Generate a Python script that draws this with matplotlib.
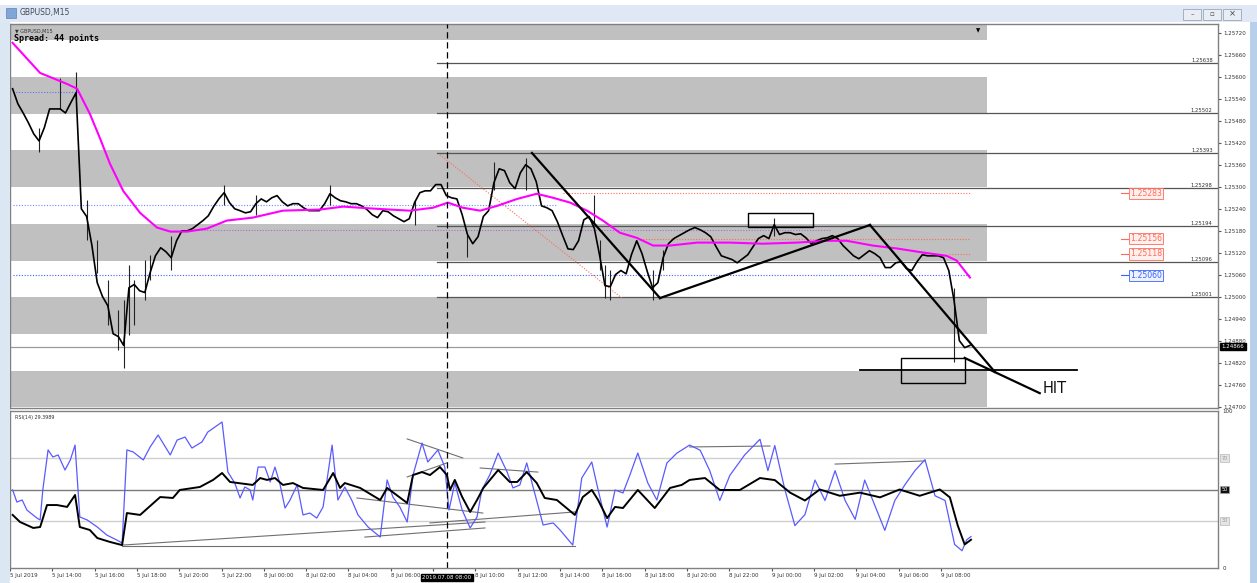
import matplotlib
matplotlib.use("Agg")
import matplotlib.pyplot as plt
from matplotlib.patches import Rectangle, Polygon

# ---------------- data ----------------
closes = [1.25568, 1.25527, 1.25502, 1.25475, 1.25445, 1.25426, 1.25462, 1.25513, 1.25513, 1.25513,
          1.25502, 1.25530, 1.25557, 1.25241, 1.25220, 1.25141, 1.25040, 1.25002, 1.24977, 1.24901,
          1.24893, 1.24869, 1.25026, 1.25035, 1.25018, 1.25013, 1.25067, 1.25113, 1.25135, 1.25124,
          1.25108, 1.25154, 1.25181, 1.25181, 1.25187, 1.25198, 1.25209, 1.25222, 1.25247, 1.25268,
          1.25285, 1.25258, 1.25241, 1.25236, 1.25230, 1.25233, 1.25255, 1.25268, 1.25260, 1.25271,
          1.25277, 1.25260, 1.25249, 1.25255, 1.25255, 1.25244, 1.25236, 1.25236, 1.25236, 1.25255,
          1.25282, 1.25271, 1.25263, 1.25260, 1.25255, 1.25255, 1.25249, 1.25239, 1.25225, 1.25217,
          1.25236, 1.25233, 1.25222, 1.25214, 1.25206, 1.25214, 1.25258, 1.25285, 1.25290, 1.25290,
          1.25307, 1.25307, 1.25277, 1.25271, 1.25268, 1.25225, 1.25171, 1.25146, 1.25165, 1.25220,
          1.25236, 1.25312, 1.25350, 1.25345, 1.25312, 1.25296, 1.25339, 1.25361, 1.25350, 1.25315,
          1.25249, 1.25244, 1.25236, 1.25206, 1.25168, 1.25132, 1.25130, 1.25154, 1.25211, 1.25220,
          1.25187, 1.25113, 1.25032, 1.25029, 1.25062, 1.25073, 1.25064, 1.25116, 1.25154, 1.25119,
          1.25070, 1.25026, 1.25040, 1.25108, 1.25146, 1.25160, 1.25168, 1.25176, 1.25184, 1.25190,
          1.25184, 1.25176, 1.25165, 1.25138, 1.25113, 1.25108, 1.25103, 1.25094, 1.25105, 1.25116,
          1.25138, 1.25160, 1.25168, 1.25160, 1.25198, 1.25171, 1.25176, 1.25176, 1.25171, 1.25173,
          1.25162, 1.25146, 1.25154, 1.25160, 1.25162, 1.25168, 1.25160, 1.25141, 1.25127, 1.25113,
          1.25105, 1.25116, 1.25127, 1.25119, 1.25108, 1.25081, 1.25081, 1.25094, 1.25097, 1.25078,
          1.25073, 1.25097, 1.25116, 1.25113, 1.25113, 1.25113, 1.25108, 1.25073, 1.24991, 1.24882,
          1.24863, 1.24869]
bars = list(range(len(closes)))

wick_bars = [5, 9, 12, 14, 16, 18, 20, 21, 22, 23, 25, 26, 30, 40, 46, 60, 76, 86, 91, 97,
             110, 111, 112, 113, 121, 123, 144, 178]
wick_low = [1.25396, 1.25513, 1.25540, 1.25156, 1.25066, 1.24925, 1.24857, 1.24808, 1.24897, 1.24925,
            1.24993, 1.25047, 1.25074, 1.25251, 1.25224, 1.25251, 1.25197, 1.25110, 1.25292, 1.25292,
            1.25197, 1.25074, 1.24998, 1.24993, 1.24993, 1.25074, 1.25167, 1.24824]
wick_high = [1.25461, 1.25597, 1.25614, 1.25265, 1.25156, 1.25047, 1.24966, 1.24993, 1.25088, 1.25047,
             1.25102, 1.25115, 1.25167, 1.25306, 1.25279, 1.25306, 1.25265, 1.25170, 1.25369, 1.25379,
             1.25279, 1.25156, 1.25088, 1.25074, 1.25074, 1.25129, 1.25216, 1.25025]

ma_bars = [0, 5.2, 10.3, 12.2, 14.6, 16.5, 18.4, 20.9, 24.1, 27.3, 29.8, 33, 36.7, 40.5, 45.4, 51.1,
           58.1, 62.5, 68.9, 75.1, 79.5, 82.3, 85.1, 88.4, 91.6, 95.4, 99.1, 102.2, 105.4, 108.6,
           111.6, 114.8, 118, 121.1, 124.3, 129.4, 135.6, 141.8, 148.3, 153.9, 157.7, 162.6, 167.2,
           172.1, 176.6, 178.5, 181]
ma_vals = [1.25693, 1.25611, 1.25581, 1.25568, 1.25500, 1.25434, 1.25364, 1.25290, 1.25230, 1.25190,
           1.25179, 1.25179, 1.25187, 1.25209, 1.25217, 1.25236, 1.25239, 1.25247, 1.25241, 1.25236,
           1.25244, 1.25258, 1.25244, 1.25236, 1.25249, 1.25268, 1.25282, 1.25271, 1.25258, 1.25236,
           1.25209, 1.25176, 1.25162, 1.25141, 1.25141, 1.25149, 1.25149, 1.25146, 1.25149, 1.25154,
           1.25154, 1.25141, 1.25133, 1.25122, 1.25113, 1.25100, 1.25054]

rsi_bars = [0, 0.8, 1.8, 2.7, 4.6, 5.2, 5.7, 6.7, 7.6, 8.6, 9.9, 10.9, 11.8, 12.7, 14.1, 16, 17.8, 19.7,
            20.7, 21.6, 22.8, 24.7, 26, 27.5, 29.8, 31.1, 32.6, 33.9, 35.8, 36.9, 39.6, 40.7, 42, 43,
            43.9, 44.9, 45.4, 46.4, 47.7, 48.7, 49.6, 50.5, 51.5, 52.4, 53.8, 54.9, 56.2, 57.5, 58.7,
            60.4, 61.5, 62.8, 64.1, 65.3, 67.2, 69.5, 70.8, 71.9, 73.2, 74.6, 75.7, 77.4, 78.5, 80.4,
            81.7, 82.5, 83.6, 85, 86.5, 87.8, 88.7, 90.2, 91.8, 93.5, 94.6, 95.9, 97.2, 98.4, 100.3,
            102.2, 103.5, 105.9, 107.6, 109.5, 110.7, 112.4, 113.9, 115.4, 116.7, 118.2, 120.1, 121.8,
            123.7, 125.6, 128, 130, 131.8, 133.7, 135.6, 138.4, 141.3, 142.8, 144.1, 146, 147.9, 149.8,
            151.7, 153.6, 155.5, 157.4, 159.3, 161.1, 163, 164.9, 166.8, 168.7, 170.6, 172.5, 174.4,
            176.3, 178.1, 179.5, 180.4, 181.2]
rsi_vals = [49.7, 42.0, 43.3, 36.9, 31.8, 30.6, 49.7, 75.2, 70.7, 72.0, 62.4, 68.8, 78.3, 32.5, 30.6,
            26.1, 21.0, 17.8, 15.9, 75.2, 73.9, 68.8, 77.1, 84.7, 72.0, 81.5, 83.4, 76.4, 80.3, 86.6,
            93.0, 61.1, 54.1, 44.6, 51.6, 49.7, 43.3, 64.3, 64.3, 54.8, 64.3, 54.1, 38.2, 43.0, 52.9,
            33.8, 35.0, 31.8, 38.9, 78.3, 43.3, 51.6, 43.3, 33.8, 26.1, 19.7, 56.1, 45.2, 38.9, 29.3,
            59.2, 79.6, 67.5, 75.2, 64.3, 36.9, 54.1, 36.9, 25.5, 32.5, 49.7, 59.2, 73.2, 61.1, 51.0,
            52.9, 66.9, 51.6, 27.4, 28.7, 24.2, 14.6, 57.3, 67.5, 49.7, 26.1, 49.7, 47.8, 59.2, 73.2,
            54.1, 43.3, 66.9, 73.2, 78.3, 75, 62, 43, 59, 72, 82, 62, 78, 50, 27, 34, 56, 43, 62, 43,
            31, 56, 40, 24, 43, 53, 62, 69, 46, 43, 15, 11, 18, 20]

sig_bars = [0, 1.4, 3.9, 5.2, 6.5, 8.4, 10.3, 11.8, 12.7, 14.6, 16, 18.4, 20.7, 21.6, 24.1, 27.9, 30.3,
            31.6, 35.4, 37.9, 39.6, 41.1, 45.4, 46.8, 48.1, 49.6, 51.1, 53, 54.9, 58.7, 60.6, 61.9,
            62.8, 65.7, 69.5, 70.8, 74.6, 75.7, 77.4, 78.9, 80.8, 82.1, 82.7, 83.6, 85, 86.5, 87.8,
            89, 91.8, 94, 95.4, 97.2, 99.1, 100.6, 102.9, 106.3, 107.8, 109.5, 110.7, 112.4, 113.9,
            115.4, 118.2, 121.4, 124.3, 126.5, 128, 130.9, 133.7, 137.5, 141.3, 144.1, 147, 149.8,
            152.6, 156.4, 160.2, 164, 167.7, 171.5, 175.3, 177.2, 178.7, 180, 181.2]
sig_vals = [33.8, 29.3, 25.5, 26.1, 40.1, 40.1, 38.9, 46.5, 26.1, 24.2, 19.1, 16.6, 14.6, 35.0, 33.8,
            45.2, 44.6, 49.7, 51.6, 56.1, 60.5, 54.8, 52.9, 57.3, 56.1, 57.3, 52.9, 54.1, 51.0, 49.7,
            60.5, 51.0, 54.1, 51.0, 43.3, 51.0, 41.4, 59.2, 61.1, 59.2, 64.3, 59.2, 49.7, 56.1, 45.2,
            35.7, 43.3, 51.0, 62.4, 54.8, 54.8, 61.1, 54.1, 44.6, 43.3, 33.8, 45.2, 49.7, 43.3, 31.8,
            38.9, 38.2, 49.7, 38.2, 51.0, 52.9, 56.1, 57.3, 49.7, 49.7, 57.3, 56, 48, 43, 50, 46, 48,
            45, 50, 46, 50, 45, 27, 15, 18]

# price zones (lower edge, 10 pips high)
zone_lows = [1.2470, 1.2490, 1.2510, 1.2530, 1.2550, 1.2570]
zone_height = 0.0010
zone_end = 184.2

# horizontal level lines (from bar 80 to right edge) and their labels
level_prices = [1.25638, 1.25502, 1.25393, 1.25298, 1.25194, 1.25096, 1.25001]
level_labels = ["1.25638", "1.25502", "1.25393", "1.25298", "1.25194", "1.25096", "1.25001"]
level_start = 80.2

current_price = 1.24866

# order lines (price, start bar, colour, label)
order_prices = [1.25283, 1.25160, 1.25118, 1.25060]
order_starts = [104, 118.6, 177, 0]
order_colors = ["#ff6a5a", "#ff6a5a", "#ff6a5a", "#3a62ff"]
order_labels = ["1.25283", "1.25156", "1.25118", "1.25060"]
order_end = 181

# dotted history lines (price, start, end, colour)
dot_prices = [1.25559, 1.25252, 1.25183]
dot_starts = [0, 0, 33.6]
dot_ends = [12.4, 103, 154.5]
dot_colors = ["#6a6aff", "#6a8cff", "#a070d0"]

# trend lines ((bar, price), (bar, price))
trend_lines = [((98.2, 1.25393), (122.4, 1.24998)),
               ((122.4, 1.24998), (162.1, 1.25197)),
               ((162.1, 1.25197), (185.7, 1.24797)),
               ((180.0, 1.24835), (194.2, 1.24739))]
hline_hit = (160.2, 201.2, 1.24802)
boxes = [(167.9, 180.0, 1.24767, 1.24835), (139.0, 151.3, 1.25192, 1.25230)]
red_channel = ((80.8, 1.25388), (115.2, 1.24998))
cursor_bar = 82.1

# RSI pane trend lines
rsi_lines = [((20.7, 14.6), (89.3, 29.3)), ((20.7, 14.0), (106.3, 14.0)),
             ((74.6, 82.2), (85.1, 70.1)), ((74.6, 58.0), (82.1, 66.9)),
             ((65.1, 44.6), (88.9, 35.0)), ((66.6, 19.7), (89.3, 25.5)),
             ((88.4, 63.7), (99.3, 61.1)), ((78.9, 28.7), (106.3, 35.7)),
             ((128.0, 77.1), (143.2, 77.7)), ((155.5, 66.2), (172.5, 68.2))]

price_ticks = [1.25720, 1.25660, 1.25600, 1.25540, 1.25480, 1.25420, 1.25360, 1.25300, 1.25240,
               1.25180, 1.25120, 1.25060, 1.25000, 1.24940, 1.24880, 1.24820, 1.24760, 1.24700]
time_labels = ["5 Jul 2019", "5 Jul 14:00", "5 Jul 16:00", "5 Jul 18:00", "5 Jul 20:00", "5 Jul 22:00",
               "8 Jul 00:00", "8 Jul 02:00", "8 Jul 04:00", "8 Jul 06:00", "", "8 Jul 10:00",
               "8 Jul 12:00", "8 Jul 14:00", "8 Jul 16:00", "8 Jul 18:00", "8 Jul 20:00", "8 Jul 22:00",
               "9 Jul 00:00", "9 Jul 02:00", "9 Jul 04:00", "9 Jul 06:00", "9 Jul 08:00"]
bars_per_label = 8
cursor_label = "2019.07.08 08:00"

# ---------------- figure ----------------
W, H = 1257, 583
fig = plt.figure(figsize=(W / 100, H / 100), dpi=100)
fig.patch.set_facecolor("white")


def fig_rect(x0, y0, x1, y1, **kw):
    fig.add_artist(Rectangle((x0 / W, 1 - y1 / H), (x1 - x0) / W, (y1 - y0) / H,
                             transform=fig.transFigure, **kw))


# window chrome
fig_rect(0, 5, W, 22, facecolor="#dfe8f4", edgecolor="none")
fig_rect(0, 22, 10, H, facecolor="#dce7f4", edgecolor="none")
fig_rect(1250, 22, W, H, facecolor="#b8cfea", edgecolor="none")
fig_rect(6, 8, 16, 18, facecolor="#7fa6d6", edgecolor="#5a82b8", lw=0.5)
fig.text(20 / W, 1 - 13 / H, "GBPUSD,M15", fontsize=5.5, color="#404a5a", va="center")
for bx in (1183, 1203, 1223):
    fig_rect(bx, 9, bx + 18, 20, facecolor="#e9eef5", edgecolor="#9aa8ba", lw=0.6)
fig.text(1192 / W, 1 - 14 / H, "–", fontsize=5, ha="center", va="center", color="#444")
fig.text(1212 / W, 1 - 14 / H, "▫", fontsize=5, ha="center", va="center", color="#444")
fig.text(1232 / W, 1 - 14 / H, "×", fontsize=6, ha="center", va="center", color="#444")

ax = fig.add_axes([10 / W, 1 - 408 / H, 1208 / W, 384 / H])
ax2 = fig.add_axes([10 / W, 1 - 568 / H, 1208 / W, 157 / H])
xlim = (-0.49, 227.9)

# ---- main pane ----
ax.set_xlim(*xlim)
ax.set_ylim(1.246986, 1.257443)
for lo in zone_lows:
    ax.add_patch(Rectangle((xlim[0], lo), zone_end - xlim[0], zone_height,
                           facecolor="#c0c0c0", edgecolor="none", zorder=0))

for p, lab in zip(level_prices, level_labels):
    ax.plot([level_start, xlim[1]], [p, p], color="#555555", lw=0.9, zorder=1)
    ax.text(xlim[1] - 1, p, lab, fontsize=3.8, ha="right", va="bottom", color="#333", zorder=5)

ax.axhline(current_price, color="#9a9a9a", lw=0.9, zorder=1)

for p, s, e, c in zip(dot_prices, dot_starts, dot_ends, dot_colors):
    ax.plot([s, e], [p, p], color=c, lw=0.8, ls=(0, (1, 1.5)), zorder=1)
for p, s, c, lab in zip(order_prices, order_starts, order_colors, order_labels):
    ax.plot([s, order_end], [p, p], color=c, lw=0.8, ls=(0, (1, 1.5)), zorder=1)
    ax.plot([209.6, 210.8], [p, p], color=c, lw=0.8, zorder=5)
    light = "#fff0ee" if c != "#3a62ff" else "#eef2ff"
    ax.text(211.3, p, lab, fontsize=5.6, color=c, ha="left", va="center", zorder=6,
            bbox=dict(boxstyle="square,pad=0.15", facecolor=light, edgecolor=c, lw=0.6))

(rx0, ry0), (rx1, ry1) = red_channel
ax.plot([rx0, rx1], [ry0, ry1], color="#ff6a5a", lw=0.8, ls=(0, (1, 1.5)), zorder=2)

ax.vlines(wick_bars, wick_low, wick_high, color="#222222", lw=0.8, zorder=3)
ax.plot(bars, closes, color="black", lw=1.2, zorder=3)
ax.plot(ma_bars, ma_vals, color="#ff00ff", lw=1.5, zorder=4)

for (x0, y0), (x1, y1) in trend_lines:
    ax.plot([x0, x1], [y0, y1], color="black", lw=1.6, zorder=5)
ax.plot([hline_hit[0], hline_hit[1]], [hline_hit[2], hline_hit[2]], color="black", lw=1.3, zorder=5)
for x0, x1, y0, y1 in boxes:
    ax.add_patch(Rectangle((x0, y0), x1 - x0, y1 - y0, facecolor="none", edgecolor="black",
                           lw=1.0, zorder=5))
ax.text(194.8, 1.24753, "HIT", fontsize=10.5, ha="left", va="center", color="#111", zorder=6)

ax.axvline(cursor_bar, color="black", lw=0.9, ls=(0, (5, 3)), zorder=6)

ax.text(0.004, 0.982, "▼ GBPUSD,M15", transform=ax.transAxes, fontsize=3.5, color="#333",
        va="center", ha="left")
ax.text(0.003, 0.962, "Spread: 44 points", transform=ax.transAxes, fontsize=6,
        family="DejaVu Sans Mono", weight="bold", va="center", ha="left", color="black")
ax.text(182.5, 1.25725, "▼", fontsize=4, ha="center", va="center", color="black")

ax.yaxis.tick_right()
ax.set_yticks(price_ticks)
ax.set_yticklabels([f"{p:.5f}" for p in price_ticks])
ax.tick_params(axis="y", labelsize=4, length=2, pad=2, colors="#555", labelcolor="#333")
ax.set_xticks([])
ax.text(1.003, current_price, f"{current_price:.5f}", transform=ax.get_yaxis_transform(),
        fontsize=4, color="white", ha="left", va="center", zorder=8,
        bbox=dict(boxstyle="square,pad=0.25", facecolor="black", edgecolor="black"))
for s in ax.spines.values():
    s.set_color("#808080")
    s.set_linewidth(1.0)

# ---- RSI pane ----
ax2.set_xlim(*xlim)
ax2.set_ylim(0, 100)
ax2.axhline(70, color="#cfcfcf", lw=1.0)
ax2.axhline(30, color="#cfcfcf", lw=1.0)
ax2.axhline(50, color="#7a7a7a", lw=1.0)
for (x0, y0), (x1, y1) in rsi_lines:
    ax2.plot([x0, x1], [y0, y1], color="#707070", lw=0.8)
ax2.plot(rsi_bars, rsi_vals, color="#5a5aff", lw=0.9)
ax2.plot(sig_bars, sig_vals, color="black", lw=1.4)
ax2.axvline(cursor_bar, color="black", lw=0.9, ls=(0, (5, 3)))
ax2.text(0.004, 0.975, "RSI(14) 29.3989", transform=ax2.transAxes, fontsize=3.5, color="#333",
         va="top", ha="left")
ax2.yaxis.tick_right()
ax2.set_yticks([100, 0])
ax2.set_yticklabels(["100", "0"])
ax2.tick_params(axis="y", labelsize=4, length=0, pad=3, labelcolor="#333")
for v, fc, tc in ((70, "#e4e4e4", "#999"), (50, "#111111", "white"), (30, "#e4e4e4", "#999")):
    ax2.text(1.003, v, f"{v}", transform=ax2.get_yaxis_transform(), fontsize=3.5, color=tc,
             ha="left", va="center", bbox=dict(boxstyle="square,pad=0.3", facecolor=fc,
                                               edgecolor="#aaaaaa", lw=0.4))
ticks = [k * bars_per_label - 0.5 for k in range(len(time_labels))]
ax2.set_xticks(ticks)
ax2.set_xticklabels(time_labels, ha="left")
ax2.tick_params(axis="x", labelsize=4, length=2, pad=1.5, colors="#555", labelcolor="#333")
ax2.text(cursor_bar, -4.5, cursor_label, transform=ax2.transData, fontsize=4, color="white",
         ha="center", va="top", clip_on=False,
         bbox=dict(boxstyle="square,pad=0.2", facecolor="black", edgecolor="black"))
for s in ax2.spines.values():
    s.set_color("#808080")
    s.set_linewidth(1.0)

fig.savefig("out.png", dpi=100)
